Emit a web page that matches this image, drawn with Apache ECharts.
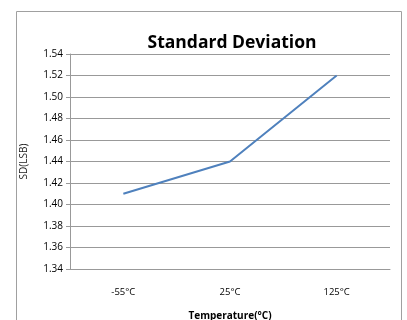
<!DOCTYPE html>
<html><head><meta charset="utf-8">
<script src="https://cdn.jsdelivr.net/npm/echarts@6/dist/echarts.min.js"></script>
<style>html,body{margin:0;padding:0;background:#fff}#c{width:407px;height:320px}</style>
</head><body><div id="c"></div>
<script>
const categories = ['-55°C', '25°C', '125°C'];
const sdValues = [1.41, 1.44, 1.52];
const chart = echarts.init(document.getElementById('c'));
chart.setOption({
  animation: false,
  graphic: [{type: 'rect', shape: {x: 16.5, y: 11.5, width: 385, height: 320}, style: {fill: 'none', stroke: '#a0a0a0', lineWidth: 1}}],
  title: {text: 'Standard Deviation', left: 227, textAlign: 'center', top: 29,
    textStyle: {fontFamily: 'Open Sans', fontWeight: 'bold', fontSize: 17.5, color: '#000'}},
  grid: {left: 70, right: 17, top: 54, bottom: 51, containLabel: false, outerBoundsMode: 'none'},
  xAxis: {type: 'category', data: categories, boundaryGap: true,
    name: 'Temperature(°C)', nameLocation: 'middle', nameGap: 42,
    nameTextStyle: {fontFamily: 'Open Sans', fontWeight: 'bold', fontSize: 10, color: '#000'},
    axisLine: {lineStyle: {color: '#999'}}, axisTick: {show: false},
    axisLabel: {fontFamily: 'Open Sans', fontSize: 9.5, color: '#000', margin: 18}},
  yAxis: {type: 'value', min: 1.34, max: 1.54, interval: 0.02,
    name: 'SD(LSB)', nameLocation: 'middle', nameGap: 41,
    nameTextStyle: {fontFamily: 'Open Sans', fontSize: 10, color: '#222'},
    axisLine: {show: true, lineStyle: {color: '#999'}},
    axisTick: {show: true, length: 4, lineStyle: {color: '#999'}},
    splitLine: {lineStyle: {color: '#999'}},
    axisLabel: {fontFamily: 'Open Sans', fontSize: 10, color: '#000', margin: 7,
      formatter: v => v.toFixed(2)}},
  series: [{type: 'line', data: sdValues, symbol: 'none',
    lineStyle: {color: '#4f81bd', width: 2}}]
});
</script></body></html>
